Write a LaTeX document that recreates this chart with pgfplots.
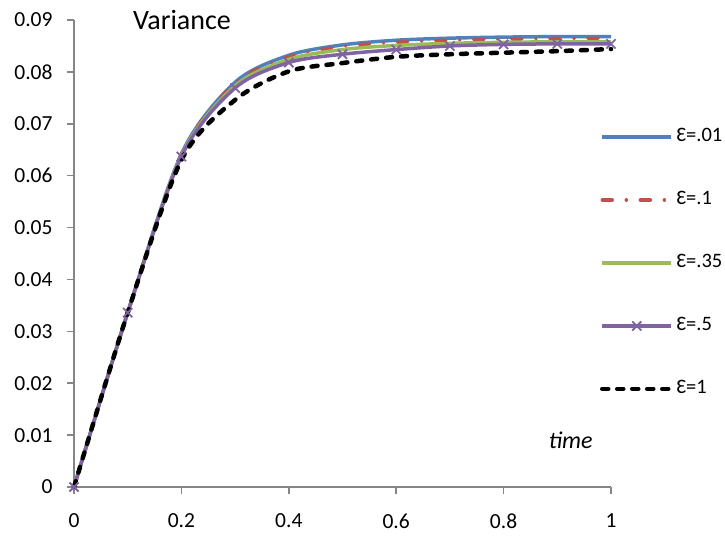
\documentclass[border=0pt]{standalone}
\usepackage{fontspec}
\setmainfont{Carlito}
\usepackage{pgfplots}
\pgfplotsset{compat=1.18}
\definecolor{cblue}{HTML}{4F81BD}
\definecolor{cred}{HTML}{C0504D}
\definecolor{cgreen}{HTML}{9BBB59}
\definecolor{cpurple}{HTML}{8064A2}
\definecolor{caxis}{HTML}{868686}
\newcommand{\tfont}{\fontsize{21.5bp}{25bp}\selectfont}
\begin{document}
\begin{tikzpicture}
\path[use as bounding box] (0,0) rectangle (725bp,538bp);
\begin{axis}[
  at={(74bp,51bp)}, anchor=south west,
  scale only axis, width=537bp, height=467bp,
  xmin=0, xmax=1, ymin=0, ymax=0.09,
  axis lines=left, axis line style={-, caxis, line width=1.5bp},
  xtick={0,0.2,0.4,0.6,0.8,1},
  ytick={0,0.01,0.02,0.03,0.04,0.05,0.06,0.07,0.08,0.09},
  tick align=outside, major tick length=7bp,
  tick style={caxis, line width=1.5bp},
  scaled y ticks=false,
  yticklabel style={xshift=-11bp, /pgf/number format/.cd, fixed, precision=2, assume math mode=true},
  xticklabel style={yshift=-16bp, /pgf/number format/.cd, fixed, precision=1, assume math mode=true},
  every tick label/.append style={font=\tfont, text=black},
  clip=false,
  legend style={at={(axis description cs:0.9795,0.4797)}, anchor=west, draw=none, fill=none,
    inner sep=0pt, outer sep=0pt,
    font=\fontsize{20.5bp}{24bp}\selectfont, row sep=43bp,
    nodes={inner sep=0pt, anchor=west, text height=15bp, text depth=5bp},
    /tikz/every odd column/.append style={column sep=3bp}},
  legend image code/.code={\draw[mark repeat=2,mark phase=2,#1] plot coordinates {(0bp,0bp) (34.5bp,0bp) (69bp,0bp)};},
  legend cell align=left,
]
\addplot[cblue, line width=3.5bp, smooth] coordinates {
(0,0) (0.1,0.0336) (0.2,0.0642) (0.3,0.0780) (0.4,0.0832) (0.5,0.0852) (0.6,0.0861) (0.7,0.0865) (0.8,0.0867) (0.9,0.0868) (1,0.0868)};
\addlegendentry{Ɛ=.01}
\addplot[cred, line width=3.5bp, smooth, line cap=round, dash pattern=on 10bp off 14bp on 0.1bp off 14bp] coordinates {
(0,0) (0.1,0.0336) (0.2,0.0641) (0.3,0.0778) (0.4,0.0829) (0.5,0.0849) (0.6,0.0857) (0.7,0.0861) (0.8,0.0863) (0.9,0.0864) (1,0.0865)};
\addlegendentry{Ɛ=.1}
\addplot[cgreen, line width=3.5bp, smooth] coordinates {
(0,0) (0.1,0.0336) (0.2,0.0639) (0.3,0.0773) (0.4,0.0824) (0.5,0.0843) (0.6,0.0851) (0.7,0.0855) (0.8,0.0857) (0.9,0.0858) (1,0.0858)};
\addlegendentry{Ɛ=.35}
\addplot[cpurple, line width=3.5bp, smooth, mark=x, mark size=6.5bp, mark options={line width=1.8bp, solid}] coordinates {
(0,0) (0.1,0.0336) (0.2,0.0637) (0.3,0.0769) (0.4,0.0818) (0.5,0.0834) (0.6,0.0843) (0.7,0.0850) (0.8,0.0853) (0.9,0.0854) (1,0.0854)};
\addlegendentry{Ɛ=.5}
\addplot[black, line width=4.5bp, smooth, line cap=round, dash pattern=on 6bp off 9bp] coordinates {
(0,0) (0.1,0.0336) (0.2,0.0630) (0.3,0.0746) (0.4,0.0801) (0.5,0.0817) (0.6,0.0829) (0.7,0.0834) (0.8,0.0837) (0.9,0.0840) (1,0.0844)};
\addlegendentry{Ɛ=1}
\node[font=\fontsize{28bp}{32bp}\selectfont] at (rel axis cs:0.201,1) {Variance};
\node[font=\fontsize{24bp}{28bp}\selectfont\itshape] at (rel axis cs:0.925,0.1006) {time};
\end{axis}
\end{tikzpicture}
\end{document}
